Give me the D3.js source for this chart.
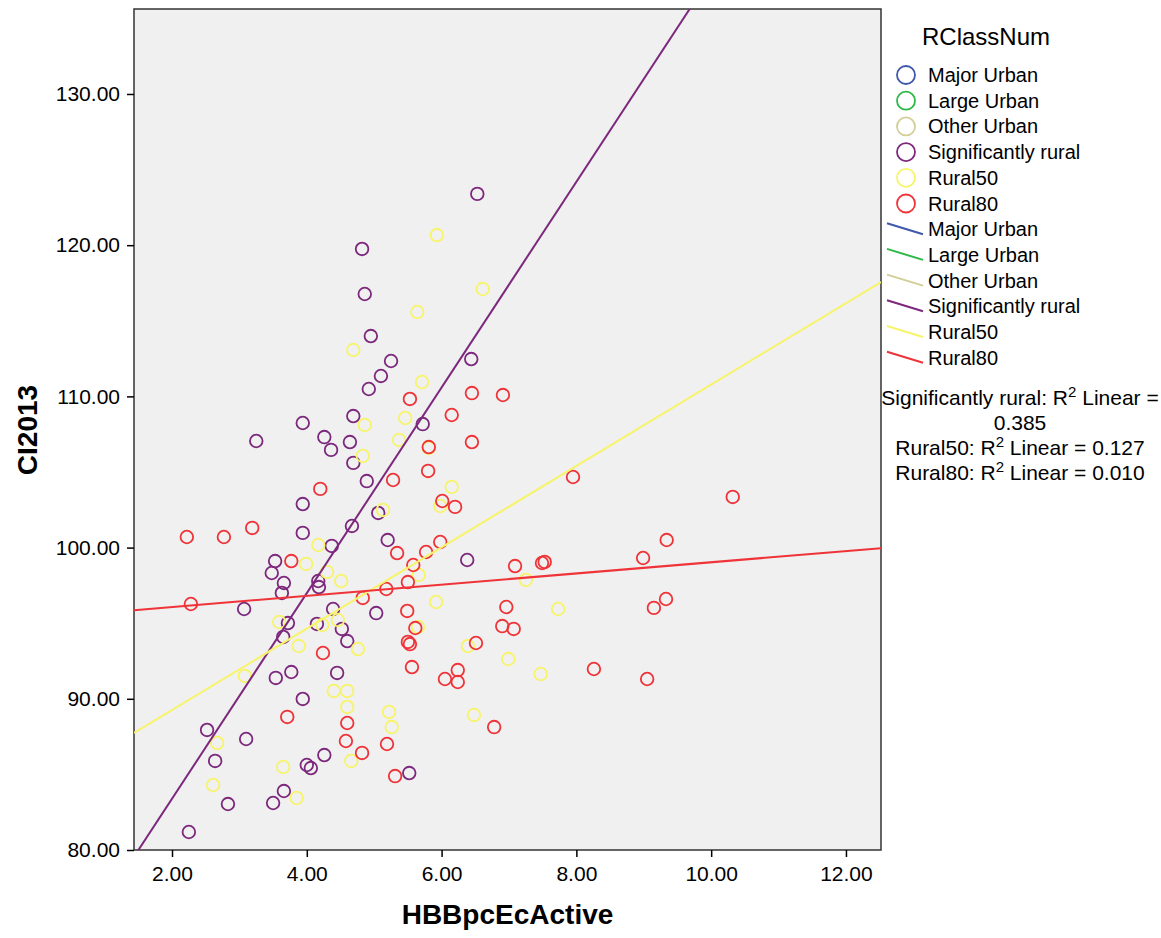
<!DOCTYPE html>
<html lang="en">
<head>
<meta charset="UTF-8">
<title>CI2013 by HBBpcEcActive</title>
<script src="https://d3js.org/d3.v7.min.js"></script>
<style>
    body { margin: 0; background: #fff; }
    svg text { font-family: Arial, "Liberation Sans", sans-serif; fill: #000; }
    .axis path { display: none; }
    .axis line { stroke: #000; stroke-width: 1.5px; }
    .axis text { font-size: 21px; }
    .frame { fill: #f0f0f0; stroke: #333; stroke-width: 1.5px; }
    .title { font-weight: bold; font-size: 28px; }
</style>
</head>
<body>
<svg></svg>
<script>
    // categories of RClassNum and their colours
    const categories = ["Major Urban", "Large Urban", "Other Urban", "Significantly rural", "Rural50", "Rural80"];
    const colors = ["#3e58ac", "#2eb848", "#d3ce97", "#7c287d", "#f7f46a", "#ef3338"];

    // Significantly rural points [HBBpcEcActive, CI2013]
    const sigRural = [
        [6.53, 123.39], [4.82, 119.75], [4.86, 116.77], [4.95, 113.99], [5.25, 112.34], [6.44, 112.47],
        [5.10, 111.35], [4.92, 110.49], [4.69, 108.70], [3.94, 108.24], [3.25, 107.05], [4.26, 107.31],
        [4.64, 106.98], [4.36, 106.46], [4.69, 105.60], [5.72, 108.17], [4.89, 104.40], [5.06, 102.29],
        [3.94, 102.88], [3.94, 100.97], [4.67, 101.43], [5.20, 100.50], [4.37, 100.11], [3.53, 99.11],
        [3.48, 98.32], [3.66, 97.66], [4.17, 97.79], [3.63, 97.00], [4.18, 97.39], [3.07, 95.94],
        [3.72, 95.01], [4.39, 95.94], [4.15, 94.95], [6.38, 99.18], [5.03, 95.67], [4.52, 94.62],
        [4.60, 93.82], [3.65, 94.09], [3.77, 91.77], [3.54, 91.38], [4.45, 91.71], [3.94, 89.99],
        [2.52, 87.94], [3.10, 87.34], [2.64, 85.89], [4.00, 85.62], [4.06, 85.42], [4.26, 86.28],
        [2.83, 83.04], [3.66, 83.90], [3.50, 83.11], [2.25, 81.19], [5.52, 85.09]
    ];

    // Rural50 points
    const rural50 = [
        [5.93, 120.67], [6.61, 117.10], [5.64, 115.58], [4.69, 113.07], [5.71, 110.95], [4.86, 108.11],
        [5.46, 108.57], [5.37, 107.12], [5.81, 106.59], [4.83, 106.06], [6.15, 104.01], [5.98, 102.75],
        [5.13, 102.49], [4.17, 100.17], [3.99, 98.92], [4.30, 98.39], [4.51, 97.79], [3.59, 95.08],
        [4.23, 94.88], [4.46, 95.21], [5.66, 98.19], [7.25, 97.86], [5.92, 96.40], [5.65, 94.75],
        [7.73, 95.94], [3.88, 93.49], [4.76, 93.29], [3.08, 91.51], [4.40, 90.52], [4.60, 90.52],
        [4.60, 89.46], [2.67, 87.08], [3.65, 85.49], [4.66, 85.89], [2.61, 84.30], [3.85, 83.44],
        [6.39, 93.49], [6.99, 92.63], [7.47, 91.64], [5.22, 89.13], [5.26, 88.13], [6.48, 88.93]
    ];

    // Rural80 points
    const rural80 = [
        [5.53, 109.83], [6.45, 110.22], [6.91, 110.09], [6.15, 108.77], [6.45, 106.98], [5.81, 106.65],
        [5.80, 105.07], [5.28, 104.47], [4.20, 103.88], [6.01, 103.08], [6.20, 102.69], [2.22, 100.70],
        [2.77, 100.70], [3.19, 101.30], [3.77, 99.11], [5.34, 99.64], [5.77, 99.71], [5.98, 100.37],
        [5.58, 98.85], [5.50, 97.72], [7.09, 98.78], [7.49, 98.98], [7.53, 99.05], [5.18, 97.26],
        [4.83, 96.67], [5.49, 95.81], [6.96, 96.07], [6.90, 94.81], [7.07, 94.62], [5.61, 94.68],
        [7.95, 104.67], [10.32, 103.35], [9.34, 100.50], [8.99, 99.31], [9.33, 96.60], [9.15, 96.01],
        [2.28, 96.27], [4.24, 93.03], [3.71, 88.80], [4.60, 88.40], [4.58, 87.21], [4.82, 86.42],
        [5.50, 93.76], [5.53, 93.62], [6.51, 93.69], [5.56, 92.10], [6.05, 91.31], [6.24, 91.90],
        [6.24, 91.11], [5.19, 87.01], [6.78, 88.13], [5.31, 84.89], [8.26, 91.97], [9.05, 91.31]
    ];

    // fitted linear regressions (per group)
    const fitGroups = ["Significantly rural", "Rural50", "Rural80"];
    const fitIntercept = [69.79, 83.88, 95.33];
    const fitSlope = [6.80, 2.69, 0.370];
    const fitR2 = ["0.385", "0.127", "0.010"];

    const xTicks = [2, 4, 6, 8, 10, 12];
    const yTicks = [80, 90, 100, 110, 120, 130];

    const W = 1161, H = 938;
    const plot = { left: 134, right: 881, top: 9, bottom: 850 };

    const svg = d3.select("svg").attr("width", W).attr("height", H);

    const x = d3.scaleLinear().domain([1.436, 12.52]).range([plot.left, plot.right]);
    const y = d3.scaleLinear().domain([80, 135.62]).range([plot.bottom, plot.top]);

    // plot background and frame
    svg.append("rect")
        .attr("class", "frame")
        .attr("x", plot.left).attr("y", plot.top)
        .attr("width", plot.right - plot.left)
        .attr("height", plot.bottom - plot.top);

    svg.append("clipPath").attr("id", "clip")
        .append("rect")
        .attr("x", plot.left).attr("y", plot.top)
        .attr("width", plot.right - plot.left)
        .attr("height", plot.bottom - plot.top);

    // axes
    const fmt = d3.format(".2f");
    svg.append("g")
        .attr("class", "axis")
        .attr("transform", `translate(0,${plot.bottom})`)
        .call(d3.axisBottom(x).tickValues(xTicks).tickFormat(fmt).tickSize(7).tickPadding(9));

    svg.append("g")
        .attr("class", "axis")
        .attr("transform", `translate(${plot.left},0)`)
        .call(d3.axisLeft(y).tickValues(yTicks).tickFormat(fmt).tickSize(7).tickPadding(7));

    // axis titles
    svg.append("text")
        .attr("class", "title")
        .attr("x", (plot.left + plot.right) / 2)
        .attr("y", 924)
        .attr("text-anchor", "middle")
        .text("HBBpcEcActive");

    svg.append("text")
        .attr("class", "title")
        .attr("transform", `translate(37,430) rotate(-90)`)
        .attr("text-anchor", "middle")
        .text("CI2013");

    // points
    const groups = [
        { name: "Significantly rural", data: sigRural },
        { name: "Rural50", data: rural50 },
        { name: "Rural80", data: rural80 }
    ];
    const color = d3.scaleOrdinal().domain(categories).range(colors);

    const pts = svg.append("g").attr("clip-path", "url(#clip)");
    groups.forEach(g => {
        pts.selectAll(null)
            .data(g.data)
            .enter().append("circle")
            .attr("cx", d => x(d[0]))
            .attr("cy", d => y(d[1]))
            .attr("r", 6.3)
            .attr("fill", "none")
            .attr("stroke", color(g.name))
            .attr("stroke-width", 1.8);
    });

    // fit lines
    const xd = x.domain();
    const lines = svg.append("g").attr("clip-path", "url(#clip)");
    fitGroups.forEach((name, i) => {
        const ends = xd.map(v => [v, fitIntercept[i] + fitSlope[i] * v]);
        lines.append("line")
            .attr("x1", x(ends[0][0])).attr("y1", y(ends[0][1]))
            .attr("x2", x(ends[1][0])).attr("y2", y(ends[1][1]))
            .attr("stroke", color(name))
            .attr("stroke-width", 2);
    });

    // legend
    const legend = svg.append("g");
    legend.append("text")
        .attr("x", 922).attr("y", 45)
        .style("font-size", "24px")
        .text("RClassNum");

    const rowY = i => 75 + i * 25.7;
    categories.forEach((c, i) => {
        legend.append("circle")
            .attr("cx", 906).attr("cy", rowY(i))
            .attr("r", 9)
            .attr("fill", "none")
            .attr("stroke", colors[i])
            .attr("stroke-width", 1.8);
        legend.append("text")
            .attr("x", 928).attr("y", rowY(i) + 7)
            .style("font-size", "20px")
            .text(c);
    });
    categories.forEach((c, i) => {
        const cy = rowY(i + 6);
        legend.append("line")
            .attr("x1", 887).attr("y1", cy - 6)
            .attr("x2", 923).attr("y2", cy + 5)
            .attr("stroke", colors[i])
            .attr("stroke-width", 2);
        legend.append("text")
            .attr("x", 928).attr("y", cy + 7)
            .style("font-size", "20px")
            .text(c);
    });

    // R squared notes
    const r2Lines = [
        [fitGroups[0] + ": R", "2", " Linear ="],
        [fitR2[0]],
        [fitGroups[1] + ": R", "2", " Linear = " + fitR2[1]],
        [fitGroups[2] + ": R", "2", " Linear = " + fitR2[2]]
    ];
    r2Lines.forEach((parts, i) => {
        const t = legend.append("text")
            .attr("x", 1020).attr("y", 405 + i * 25)
            .attr("text-anchor", "middle")
            .style("font-size", "21px");
        parts.forEach((p, j) => {
            const ts = t.append("tspan").text(p);
            if (j === 1) ts.attr("dy", -8).style("font-size", "15px");
            if (j === 2) ts.attr("dy", 8);
        });
    });
</script>
</body>
</html>
